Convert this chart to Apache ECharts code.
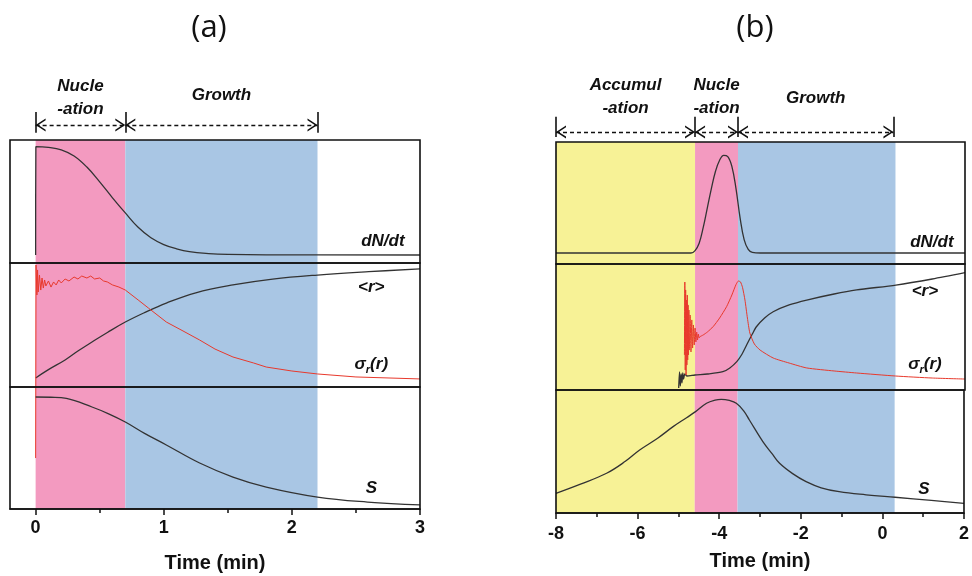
<!DOCTYPE html>
<html>
<head>
<meta charset="utf-8">
<script src="https://cdn.jsdelivr.net/npm/echarts@6/dist/echarts.min.js"></script>
<style>
  html, body { margin: 0; padding: 0; background: #fff; }
  #chart { width: 972px; height: 576px; }
</style>
</head>
<body>
<div id="chart"></div>
<script>
// phase boundaries, min
const aBands = [0, 0.7, 2.2];
const bBands = [-8, -4.6, -3.55, 0.3];
const aArrowStops = [0, 0.7, 2.2];
const bArrowStops = [-8, -4.6, -3.55, 0.25];
const aPhaseNames = ['Nucle\n-ation', 'Growth'];
const bPhaseNames = ['Accumul\n-ation', 'Nucle\n-ation', 'Growth'];

// panel (a): curves, each value scaled 0..1 inside its own strip
const aDndtT = [0, 0.002, 0.1, 0.2, 0.3, 0.4, 0.5, 0.6, 0.7, 0.8, 0.9, 1.0, 1.1, 1.2, 1.35, 1.5, 1.8, 3];
const aDndtV = [0.065, 0.946, 0.94, 0.92, 0.87, 0.78, 0.66, 0.53, 0.407, 0.29, 0.205, 0.15, 0.115, 0.092, 0.077, 0.07, 0.066, 0.065];
const aRT = [0, 0.1, 0.23, 0.33, 0.44, 0.56, 0.7, 0.85, 1.02, 1.25, 1.54, 1.85, 2.2, 2.6, 3];
const aRV = [0.073, 0.14, 0.218, 0.29, 0.363, 0.44, 0.524, 0.6, 0.677, 0.76, 0.823, 0.87, 0.903, 0.93, 0.952];
const aSigT = [0, 0.003, 0.01, 0.015, 0.02, 0.03, 0.04, 0.05, 0.06, 0.07, 0.08, 0.1, 0.12, 0.14, 0.16,
  0.18, 0.2, 0.23, 0.26, 0.3, 0.33, 0.36, 0.4, 0.43, 0.46, 0.5, 0.53, 0.56, 0.6, 0.65,
  0.7, 0.8, 0.88, 1.02, 1.15, 1.28, 1.4, 1.54, 1.7, 1.8, 2.0, 2.2, 2.5, 3];
const aSigV = [-0.573, 0.984, 0.742, 0.944, 0.766, 0.903, 0.782, 0.879, 0.798, 0.863, 0.815, 0.855, 0.806, 0.847, 0.823,
  0.863, 0.839, 0.871, 0.855, 0.887, 0.871, 0.895, 0.879, 0.895, 0.871, 0.879, 0.855, 0.847, 0.823, 0.806,
  0.782, 0.702, 0.637, 0.524, 0.452, 0.379, 0.306, 0.242, 0.194, 0.161, 0.129, 0.105, 0.081, 0.065];
const aST = [0, 0.12, 0.24, 0.44, 0.57, 0.7, 0.85, 1.02, 1.28, 1.54, 1.8, 2.2, 2.59, 3];
const aSV = [0.918, 0.916, 0.906, 0.836, 0.78, 0.713, 0.62, 0.525, 0.377, 0.262, 0.18, 0.098, 0.057, 0.033];

// panel (b)
const bDndtT = [-8, -4.7, -4.6, -4.5, -4.4, -4.3, -4.2, -4.1, -4.0, -3.9, -3.8, -3.7, -3.6, -3.5, -3.4, -3.3, -3.2, -3.0, 2];
const bDndtV = [0.09, 0.09, 0.11, 0.17, 0.3, 0.46, 0.62, 0.76, 0.85, 0.89, 0.88, 0.8, 0.62, 0.38, 0.2, 0.12, 0.095, 0.09, 0.09];
const bRT = [-5.0, -4.98, -4.96, -4.94, -4.92, -4.9, -4.88, -4.85, -4.8, -4.6, -4.3, -3.92, -3.75, -3.58,
  -3.45, -3.34, -3.2, -3.1, -2.9, -2.69, -2.3, -1.87, -1.2, -0.65, 0.31, 1.2, 2];
const bRV = [0.016, 0.143, 0.032, 0.127, 0.056, 0.135, 0.087, 0.127, 0.111, 0.119, 0.127, 0.145, 0.175, 0.225,
  0.286, 0.357, 0.444, 0.502, 0.571, 0.621, 0.675, 0.714, 0.762, 0.794, 0.833, 0.881, 0.931];
const bSigT = [-4.86, -4.85, -4.84, -4.83, -4.82, -4.81, -4.80, -4.79, -4.78, -4.77, -4.76, -4.75, -4.74, -4.72,
  -4.70, -4.68, -4.66, -4.64, -4.62, -4.60, -4.58, -4.56, -4.54, -4.52, -4.50, -4.48, -4.4, -4.3, -4.16,
  -4.0, -3.83, -3.7, -3.6, -3.54, -3.49, -3.44, -3.38, -3.32, -3.26, -3.15, -3.01, -2.69, -2.3, -1.87, -1.2,
  -0.65, 0.3, 1.2, 2];
const bSigV = [0.278, 0.857, 0.159, 0.794, 0.119, 0.714, 0.198, 0.754, 0.238, 0.675, 0.278, 0.635, 0.317, 0.595,
  0.302, 0.556, 0.333, 0.516, 0.357, 0.492, 0.381, 0.46, 0.397, 0.444, 0.413, 0.423, 0.437, 0.46, 0.502,
  0.571, 0.661, 0.754, 0.836, 0.865, 0.858, 0.815, 0.714, 0.571, 0.452, 0.365, 0.317, 0.254, 0.214, 0.175, 0.151,
  0.135, 0.111, 0.095, 0.087];
const bST = [-8, -7.4, -6.76, -6.3, -5.95, -5.5, -5.13, -4.8, -4.58, -4.31, -4.1, -3.95, -3.75, -3.58,
  -3.4, -3.26, -2.93, -2.7, -2.52, -2.2, -1.87, -1.5, -1.06, -0.4, 0.31, 1.2, 2];
const bSV = [0.16, 0.235, 0.323, 0.42, 0.512, 0.61, 0.702, 0.775, 0.824, 0.892, 0.918, 0.924, 0.915, 0.892,
  0.83, 0.756, 0.58, 0.48, 0.404, 0.32, 0.255, 0.205, 0.173, 0.148, 0.128, 0.103, 0.079];

// axis ticks
const aMajorTicks = [0, 1, 2, 3];
const aMinorTicks = [0.5, 1.5, 2.5];

// curve labels and where they sit (data coords of each strip)
const curveNames = ['dN/dt', '<r>', 'sigma', 'S'];
const aLabelX = [2.71, 2.62, 2.62, 2.62];
const aLabelY = [0.18, 0.8, 0.18, 0.17];
const bLabelX = [1.19, 1.02, 1.02, 1.02];
const bLabelY = [0.18, 0.78, 0.2, 0.19];

const PINK = '#F39AC0';
const BLUE = '#A9C6E4';
const YELLOW = '#F7F296';
const INK = '#111111';
const CURVE = '#333333';
const RED = '#E8392C';
const FONT = 'Liberation Sans';

const pts = (ts, vs) => ts.map((t, i) => [t, vs[i]]);

const bandArea = (edges, colors) => ({
  silent: true,
  label: { show: false },
  data: colors.map((c, i) => [{ xAxis: edges[i], itemStyle: { color: c } }, { xAxis: edges[i + 1] }]),
});

// open chevron, tip up; markLine turns it along the line
const chevron = 'path://M0,10 L6.5,0 L13,10 L11.2,10 L6.5,2.8 L1.8,10 Z';

const phaseMarks = (stops, names, y, barLo, barHi, dists) => {
  const arrows = names.map((n, i) => [
    { name: n, coord: [stops[i], y], label: { distance: dists[i] } },
    { coord: [stops[i + 1], y] },
  ]);
  const bars = stops.map((s) => [
    { coord: [s, barLo], symbol: 'none', lineStyle: { type: 'solid', width: 1.6 } },
    { coord: [s, barHi], symbol: 'none' },
  ]);
  return {
    silent: true,
    animation: false,
    symbol: [chevron, chevron],
    symbolSize: 13,
    symbolKeepAspect: true,
    symbolOffset: [[0, 5], [0, 5]],
    lineStyle: { color: INK, type: [4, 3], width: 1.3 },
    label: {
      show: true,
      position: 'insideMiddleTop',
      formatter: (p) => p.name,
      color: INK,
      fontFamily: FONT,
      fontStyle: 'italic',
      fontWeight: 'bold',
      fontSize: 17,
      lineHeight: 23,
    },
    data: arrows.concat(bars),
  };
};

const curve = (grid, data, color, extra) => Object.assign({
  type: 'line',
  xAxisIndex: [0, 1, 2, 3, 5, 6, 7, 8][grid],
  yAxisIndex: grid,
  data: data,
  symbol: 'none',
  smooth: 0.4,
  lineStyle: { color: color, width: 1.3 },
  silent: true,
}, extra || {});

const textMark = (grid, x, y, name) => ({
  type: 'scatter',
  xAxisIndex: [0, 1, 2, 3, 5, 6, 7, 8][grid],
  yAxisIndex: grid,
  symbolSize: 0,
  silent: true,
  z: 20,
  itemStyle: { opacity: 1 },
  data: [{ value: [x, y], name: name }],
  label: {
    show: true,
    position: 'inside',
    color: INK,
    opacity: 1,
    fontFamily: FONT,
    fontStyle: 'italic',
    fontWeight: 'bold',
    fontSize: 17,
    formatter: (p) => (p.name === 'sigma' ? '{s|σ}{sub|r}{s|(r)}' : p.name),
    rich: {
      s: { fontFamily: FONT, fontStyle: 'italic', fontWeight: 'bold', fontSize: 17, color: INK },
      sub: { fontFamily: FONT, fontStyle: 'italic', fontWeight: 'bold', fontSize: 11, color: INK, padding: [10, 0, 0, 0] },
    },
  },
});

const frame = { show: true, borderColor: INK, borderWidth: 1.6, z: 10 };
const grids = [
  { left: 10, width: 410, top: 100, height: 40 },
  Object.assign({ left: 10, width: 410, top: 140, height: 123 }, frame),
  Object.assign({ left: 10, width: 410, top: 263, height: 124 }, frame),
  Object.assign({ left: 10, width: 410, top: 387, height: 122 }, frame),
  { left: 556, width: 409, top: 100, height: 42 },
  Object.assign({ left: 556, width: 409, top: 142, height: 122 }, frame),
  Object.assign({ left: 556, width: 409, top: 264, height: 126 }, frame),
  Object.assign({ left: 556, width: 409, top: 390, height: 123 }, frame),
];

const hiddenX = (grid, min, max) => ({ type: 'value', gridIndex: grid, min: min, max: max, show: false });
const axisFont = { fontFamily: FONT, fontWeight: 'bold', color: '#111' };
const timeName = (gap) => ({
  name: 'Time (min)',
  nameLocation: 'middle',
  nameGap: gap,
  nameTextStyle: Object.assign({ fontSize: 20 }, axisFont),
});

const xAxes = [
  hiddenX(0, -0.2, 3),
  hiddenX(1, -0.2, 3),
  hiddenX(2, -0.2, 3),
  Object.assign({
    type: 'value', gridIndex: 3, min: -0.2, max: 3, position: 'bottom', z: 12,
    axisLine: { show: true, lineStyle: { color: INK, width: 1.6 } },
    axisTick: { show: true, customValues: aMajorTicks, length: 6, lineStyle: { color: INK, width: 1.5 } },
    axisLabel: Object.assign({ customValues: aMajorTicks, fontSize: 18, margin: 10 }, axisFont),
    splitLine: { show: false },
  }, timeName(44)),
  {
    type: 'value', gridIndex: 3, min: -0.2, max: 3, position: 'bottom', z: 12,
    axisLine: { show: false },
    axisTick: { show: true, customValues: aMinorTicks, length: 4, lineStyle: { color: INK, width: 1.5 } },
    axisLabel: { show: false },
    splitLine: { show: false },
  },
  hiddenX(4, -8, 2),
  hiddenX(5, -8, 2),
  hiddenX(6, -8, 2),
  Object.assign({
    type: 'value', gridIndex: 7, min: -8, max: 2, interval: 2, position: 'bottom', z: 12,
    axisLine: { show: true, lineStyle: { color: INK, width: 1.6 } },
    axisTick: { show: true, length: 6, lineStyle: { color: INK, width: 1.5 } },
    minorTick: { show: true, splitNumber: 2, length: 4, lineStyle: { color: INK, width: 1.5 } },
    axisLabel: Object.assign({ fontSize: 18, margin: 12 }, axisFont),
    splitLine: { show: false },
  }, timeName(38)),
];

const yAxes = grids.map((g, i) => ({ type: 'value', gridIndex: i, min: 0, max: 1, show: false }));

const series = [
  { type: 'line', xAxisIndex: 0, yAxisIndex: 0, data: [], markLine: phaseMarks(aArrowStops, aPhaseNames, 0.375, 0.18, 0.7, [4, 18]) },
  { type: 'line', xAxisIndex: 5, yAxisIndex: 4, data: [], markLine: phaseMarks(bArrowStops, bPhaseNames, 0.24, 0.12, 0.6, [12, 12, 22]) },

  curve(1, pts(aDndtT, aDndtV), CURVE, { markArea: bandArea(aBands, [PINK, BLUE]) }),
  curve(2, pts(aRT, aRV), CURVE, { markArea: bandArea(aBands, [PINK, BLUE]) }),
  curve(2, pts(aSigT, aSigV), RED, { smooth: false, clip: false, lineStyle: { color: RED, width: 1 } }),
  curve(3, pts(aST, aSV), CURVE, { markArea: bandArea(aBands, [PINK, BLUE]) }),

  curve(5, pts(bDndtT, bDndtV), CURVE, { markArea: bandArea(bBands, [YELLOW, PINK, BLUE]) }),
  curve(6, pts(bRT, bRV), CURVE, { smooth: 0.25, clip: false, markArea: bandArea(bBands, [YELLOW, PINK, BLUE]) }),
  curve(6, pts(bSigT, bSigV), RED, { smooth: 0.2, lineStyle: { color: RED, width: 1 } }),
  curve(7, pts(bST, bSV), CURVE, { markArea: bandArea(bBands, [YELLOW, PINK, BLUE]) }),
];

[1, 2, 2, 3].forEach((g, i) => series.push(textMark(g, aLabelX[i], aLabelY[i], curveNames[i])));
[5, 6, 6, 7].forEach((g, i) => series.push(textMark(g, bLabelX[i], bLabelY[i], curveNames[i])));

const chart = echarts.init(document.getElementById('chart'), null, { renderer: 'canvas' });
chart.setOption({
  animation: false,
  backgroundColor: '#ffffff',
  title: [
    { text: '(a)', left: 204, top: 8, textAlign: 'center', textStyle: { fontFamily: 'Open Sans', fontSize: 31, fontWeight: 'normal', color: '#111' } },
    { text: '(b)', left: 750, top: 8, textAlign: 'center', textStyle: { fontFamily: 'Open Sans', fontSize: 31, fontWeight: 'normal', color: '#111' } },
  ],
  grid: grids,
  xAxis: xAxes,
  yAxis: yAxes,
  series: series,
});
</script>
</body>
</html>
